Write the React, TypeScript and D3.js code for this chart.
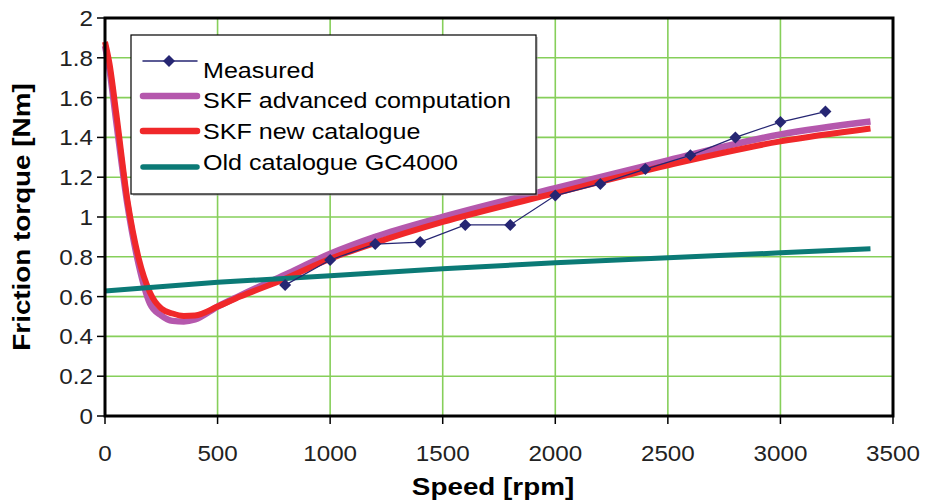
import React from 'react';
import * as d3 from 'd3';

// measured points
const measuredRpm = [800, 1000, 1200, 1400, 1600, 1800, 2000, 2200, 2400, 2600, 2800, 3000, 3200];
const measuredTorque = [0.658, 0.784, 0.864, 0.874, 0.96, 0.96, 1.108, 1.166, 1.241, 1.31, 1.4, 1.477, 1.53];

// model curves share the same speed grid
const modelRpm = [0, 20, 50, 100, 150, 200, 250, 300, 350, 400, 500, 600, 800, 1000, 1200, 1500, 2000, 2500, 3000, 3400];
const advancedTorque = [1.86, 1.74, 1.48, 1.06, 0.76, 0.565, 0.505, 0.478, 0.475, 0.485, 0.55, 0.605, 0.71, 0.815, 0.9, 1.0, 1.145, 1.285, 1.415, 1.48];
const newCatTorque = [1.88, 1.77, 1.52, 1.08, 0.79, 0.62, 0.54, 0.515, 0.503, 0.505, 0.55, 0.6, 0.69, 0.79, 0.87, 0.975, 1.12, 1.26, 1.38, 1.445];

const oldRpm = [0, 500, 1000, 1500, 2000, 2500, 3000, 3400];
const oldTorque = [0.628, 0.672, 0.705, 0.74, 0.77, 0.795, 0.82, 0.84];

const xTicks = [0, 500, 1000, 1500, 2000, 2500, 3000, 3500];
const yTicks = [0, 0.2, 0.4, 0.6, 0.8, 1, 1.2, 1.4, 1.6, 1.8, 2];

const seriesNames = ['Measured', 'SKF advanced computation', 'SKF new catalogue', 'Old catalogue GC4000'];

const WIDTH = 925;
const HEIGHT = 503;
const margin = { top: 18, right: 32, bottom: 87, left: 105 };

const COLORS = {
  measured: '#262673',
  advanced: '#b558ad',
  newCat: '#f0282a',
  old: '#0b7a76',
  grid: '#86cf5a'
};

type Pt = { x: number; y: number };

const zip = (xs: number[], ys: number[]): Pt[] => xs.map((x, i) => ({ x, y: ys[i] }));

export default function App() {
  const plotW = WIDTH - margin.left - margin.right;
  const plotH = HEIGHT - margin.top - margin.bottom;

  const xScale = d3.scaleLinear().domain([0, 3500]).range([0, plotW]);
  const yScale = d3.scaleLinear().domain([0, 2]).range([plotH, 0]);

  const smooth = d3
    .line<Pt>()
    .x(d => xScale(d.x))
    .y(d => yScale(d.y))
    .curve(d3.curveMonotoneX);

  const straight = d3
    .line<Pt>()
    .x(d => xScale(d.x))
    .y(d => yScale(d.y))
    .curve(d3.curveLinear);

  const measured = zip(measuredRpm, measuredTorque);
  const advanced = zip(modelRpm, advancedTorque);
  const newCat = zip(modelRpm, newCatTorque);
  const oldCat = zip(oldRpm, oldTorque);

  const diamond = (cx: number, cy: number, r: number) =>
    `M${cx},${cy - r}L${cx + r},${cy}L${cx},${cy + r}L${cx - r},${cy}Z`;

  // legend layout
  const lg = { x: 131, y: 35, w: 405, h: 159 };
  const legendRows = [
    { name: seriesNames[0], color: COLORS.measured, width: 1.5, marker: true, ly: 61, ty: 78 },
    { name: seriesNames[1], color: COLORS.advanced, width: 6.5, marker: false, ly: 96, ty: 108 },
    { name: seriesNames[2], color: COLORS.newCat, width: 6.5, marker: false, ly: 131, ty: 139 },
    { name: seriesNames[3], color: COLORS.old, width: 5.5, marker: false, ly: 167, ty: 170 }
  ];

  return (
    <svg
      width={WIDTH}
      height={HEIGHT}
      viewBox={`0 0 ${WIDTH} ${HEIGHT}`}
      style={{ position: 'absolute', left: 0, top: 0, background: '#fff' }}
      fontFamily="'Liberation Sans', Arial, sans-serif"
    >
      <rect x={0} y={0} width={WIDTH} height={HEIGHT} fill="#fff" />
      <g transform={`translate(${margin.left},${margin.top})`}>
        {/* grid */}
        {yTicks.map((t, i) => (
          <line key={'gy' + i} x1={0} x2={plotW} y1={yScale(t)} y2={yScale(t)} stroke={COLORS.grid} strokeWidth={1.6} />
        ))}
        {xTicks.map((t, i) => (
          <line key={'gx' + i} x1={xScale(t)} x2={xScale(t)} y1={0} y2={plotH} stroke={COLORS.grid} strokeWidth={1.6} />
        ))}

        {/* model curves */}
        <path d={smooth(advanced) || ''} fill="none" stroke={COLORS.advanced} strokeWidth={6.5} strokeLinejoin="round" />
        <path d={smooth(newCat) || ''} fill="none" stroke={COLORS.newCat} strokeWidth={6} strokeLinejoin="round" />
        <path d={straight(oldCat) || ''} fill="none" stroke={COLORS.old} strokeWidth={5} />

        {/* measured */}
        <path d={straight(measured) || ''} fill="none" stroke={COLORS.measured} strokeWidth={1.3} />
        {measured.map((d, i) => (
          <path key={'m' + i} d={diamond(xScale(d.x), yScale(d.y), 6)} fill={COLORS.measured} />
        ))}

        {/* frame */}
        <rect x={0} y={0} width={plotW} height={plotH} fill="none" stroke="#000" strokeWidth={3} />

        {/* x ticks */}
        {xTicks.map((t, i) => (
          <g key={'xt' + i} transform={`translate(${xScale(t)},${plotH})`}>
            <line y1={0} y2={8} stroke="#000" strokeWidth={1.5} />
            <text y={45} fontSize={22} fill="#222" textAnchor="middle" transform="scale(1.1,1)">
              {t}
            </text>
          </g>
        ))}

        {/* y ticks */}
        {yTicks.map((t, i) => (
          <g key={'yt' + i} transform={`translate(0,${yScale(t)})`}>
            <line x1={-8} x2={0} stroke="#000" strokeWidth={1.5} />
            <text x={-12} dy="0.36em" fontSize={22} fill="#222" textAnchor="end" transform="translate(-12,0) scale(1.1,1) translate(12,0)">
              {d3.format('~g')(t)}
            </text>
          </g>
        ))}
      </g>

      {/* axis titles */}
      <text
        transform={`translate(${margin.left + plotW / 2 - 6},495) scale(1.21,1)`}
        textAnchor="middle"
        fontWeight="bold"
        fontSize={23}
        fill="#000"
      >
        Speed [rpm]
      </text>
      <text
        transform={`translate(30,217) rotate(-90) scale(1.21,1)`}
        textAnchor="middle"
        fontWeight="bold"
        fontSize={23}
        fill="#000"
      >
        Friction torque [Nm]
      </text>

      {/* legend */}
      <rect x={lg.x + 2} y={lg.y + 2} width={lg.w} height={lg.h} fill="#999" opacity={0.5} />
      <rect x={lg.x} y={lg.y} width={lg.w} height={lg.h} fill="#fff" stroke="#000" strokeWidth={1.2} />
      {legendRows.map((r, i) => (
        <g key={'lg' + i}>
          <line x1={143} x2={197} y1={r.ly} y2={r.ly} stroke={r.color} strokeWidth={r.width} strokeLinecap="round" />
          {r.marker && <path d={diamond(169, r.ly, 6)} fill={r.color} />}
          <text transform={`translate(203,${r.ty}) scale(1.14,1)`} fontSize={22} fill="#000">
            {r.name}
          </text>
        </g>
      ))}
    </svg>
  );
}
